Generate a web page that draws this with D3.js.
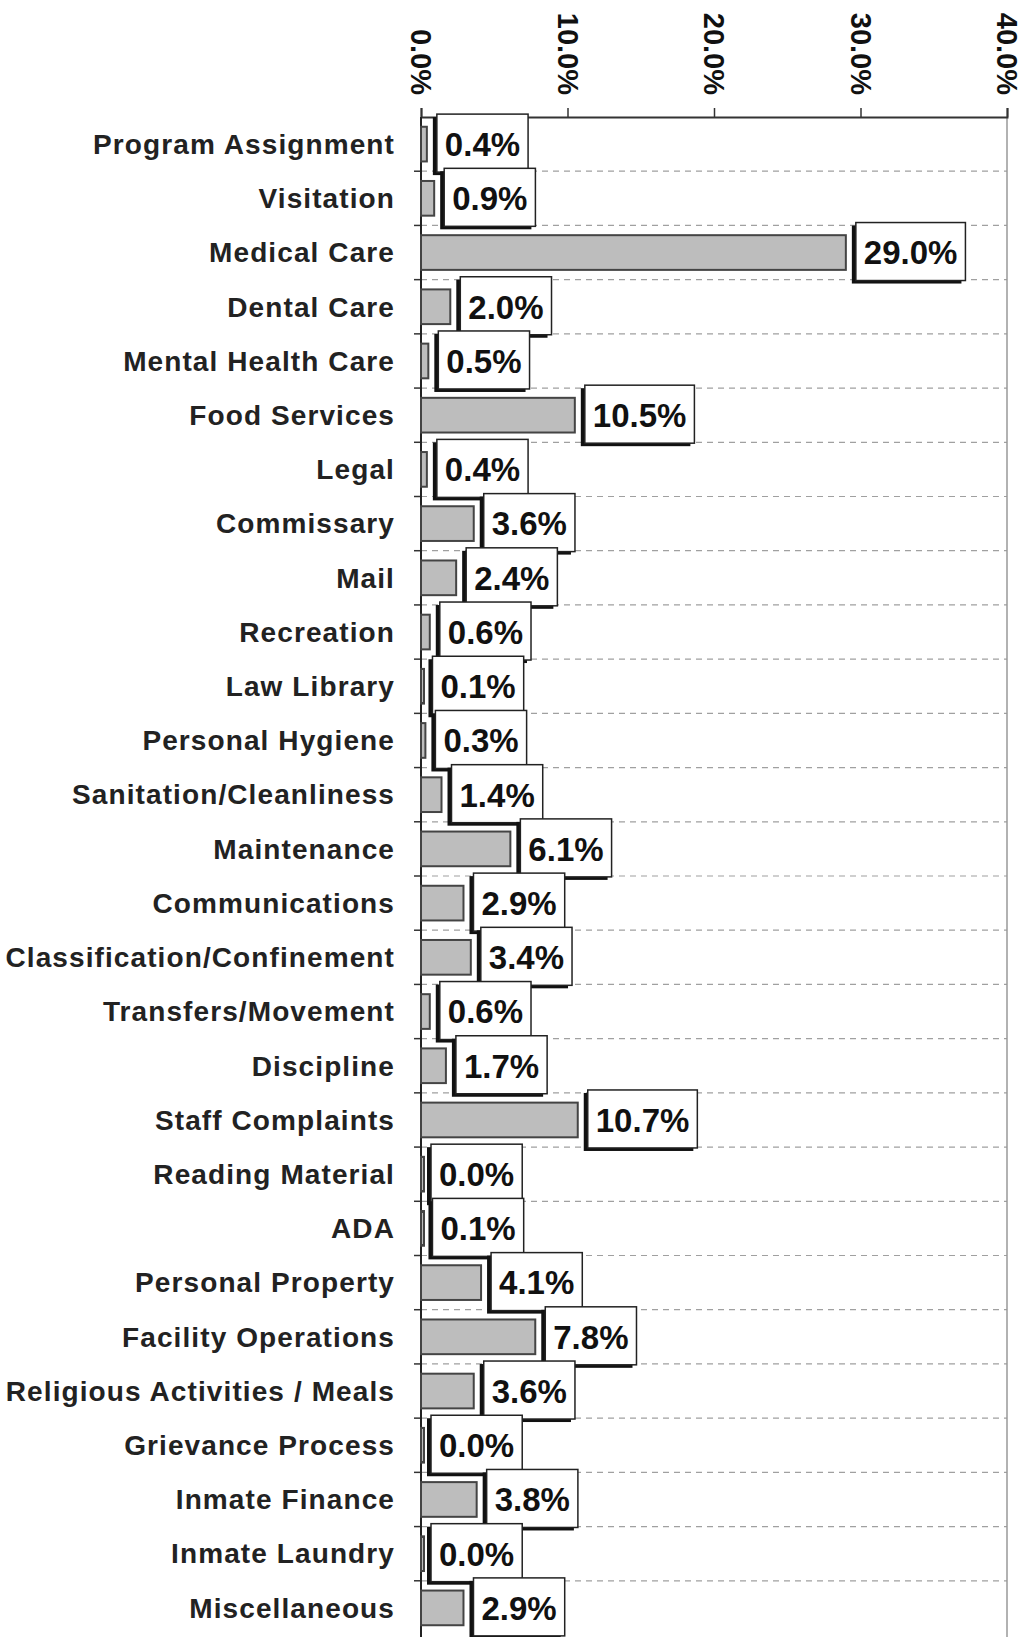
<!DOCTYPE html>
<html>
<head>
<meta charset="utf-8">
<script src="https://cdn.jsdelivr.net/npm/d3@7"></script>
<style>
body { margin: 0; background: #fff; }
svg { display: block; }
.cat { font-family: "Liberation Sans", Arial, sans-serif; font-size: 28px; font-weight: bold; fill: #222; letter-spacing: 1.1px; }
.tick-lbl { font-family: "Liberation Sans", Arial, sans-serif; font-size: 29px; font-weight: bold; fill: #111; }
.val { font-family: "Liberation Sans", Arial, sans-serif; font-size: 33px; font-weight: bold; fill: #111; }
</style>
</head>
<body>
<svg id="chart"></svg>
<script>
var width = 1024, height = 1637;

var categories = ["Program Assignment", "Visitation", "Medical Care", "Dental Care", "Mental Health Care",
	"Food Services", "Legal", "Commissary", "Mail", "Recreation", "Law Library", "Personal Hygiene",
	"Sanitation/Cleanliness", "Maintenance", "Communications", "Classification/Confinement",
	"Transfers/Movement", "Discipline", "Staff Complaints", "Reading Material", "ADA",
	"Personal Property", "Facility Operations", "Religious Activities / Meals", "Grievance Process",
	"Inmate Finance", "Inmate Laundry", "Miscellaneous"];
var values = [0.4, 0.9, 29.0, 2.0, 0.5, 10.5, 0.4, 3.6, 2.4, 0.6, 0.1, 0.3, 1.4, 6.1, 2.9, 3.4,
	0.6, 1.7, 10.7, 0.0, 0.1, 4.1, 7.8, 3.6, 0.0, 3.8, 0.0, 2.9];
var ticks = [0, 10, 20, 30, 40];

var data = categories.map(function(c, i){ return {cat: c, v: values[i]}; });

var svg = d3.select("#chart").attr("width", width).attr("height", height);

var xScale = d3.scaleLinear().domain([0, 40]).range([421, 1007]);
var yScale = d3.scaleBand().domain(categories).range([117, 1635]).paddingInner(0.36).paddingOuter(0.18);
var step = yScale.step();

// gridlines between rows
var bounds = categories.map(function(c){ return yScale(c) - yScale.paddingOuter() * step; });
bounds.shift();
svg.append("g").selectAll("line").data(bounds).enter().append("line")
	.attr("x1", xScale(0)).attr("x2", xScale(40))
	.attr("y1", function(d){return d}).attr("y2", function(d){return d})
	.style("stroke", "#a0a0a0").style("stroke-width", 1.2).style("stroke-dasharray", "6,5");
svg.append("g").selectAll("line").data(bounds).enter().append("line")
	.attr("x1", xScale(0) - 7).attr("x2", xScale(0))
	.attr("y1", function(d){return d}).attr("y2", function(d){return d})
	.style("stroke", "#333").style("stroke-width", 1.5);

// right border
svg.append("line").attr("x1", xScale(40)).attr("x2", xScale(40)).attr("y1", 117).attr("y2", height)
	.style("stroke", "#999").style("stroke-width", 1.5);

// top axis
var xAxis = d3.axisTop(xScale).tickValues(ticks).tickSize(9).tickFormat("");
var ax = svg.append("g").attr("transform", "translate(0,117)").call(xAxis);
ax.select(".domain").style("stroke", "#333").style("stroke-width", 2);
ax.selectAll(".tick line").style("stroke", "#333").style("stroke-width", 1.5);
svg.append("g").selectAll("text").data(ticks).enter().append("text")
	.attr("class", "tick-lbl")
	.attr("transform", function(d){ return "translate(" + (xScale(d) - 10) + ",95) rotate(90)"; })
	.attr("text-anchor", "end")
	.text(function(d){ return d.toFixed(1) + "%"; });

// left axis
svg.append("line").attr("x1", xScale(0)).attr("x2", xScale(0)).attr("y1", 117).attr("y2", height)
	.style("stroke", "#222").style("stroke-width", 2);

// category labels
svg.append("g").selectAll("text").data(data).enter().append("text")
	.attr("class", "cat")
	.attr("x", 395)
	.attr("y", function(d){ return yScale(d.cat) + yScale.bandwidth() / 2; })
	.attr("dy", "0.35em")
	.attr("text-anchor", "end")
	.text(function(d){ return d.cat; });

// bars
svg.append("g").selectAll("rect").data(data).enter().append("rect")
	.attr("x", xScale(0))
	.attr("y", function(d){ return yScale(d.cat); })
	.attr("width", function(d){ return Math.max(xScale(d.v) - xScale(0), 3); })
	.attr("height", yScale.bandwidth())
	.style("fill", "#bdbdbd")
	.style("stroke", "#444")
	.style("stroke-width", 2);

// value labels
var lbl = svg.append("g").selectAll("g").data(data).enter().append("g")
	.attr("transform", function(d){
		return "translate(" + (xScale(d.v) + 10) + "," + (yScale(d.cat) + yScale.bandwidth() / 2) + ")";
	});
lbl.each(function(d){
	var g = d3.select(this);
	var t = g.append("text").attr("class", "val").attr("x", 8).attr("dy", "0.36em")
		.text(d.v.toFixed(1) + "%");
	var w = t.node().getComputedTextLength() + 16;
	g.insert("rect", "text").attr("x", -4).attr("y", -27).attr("width", w).attr("height", 58)
		.style("fill", "#111");
	g.insert("rect", "text").attr("x", 0).attr("y", -30).attr("width", w).attr("height", 58)
		.style("fill", "#fff").style("stroke", "#222").style("stroke-width", 1.5);
});
</script>
</body>
</html>
